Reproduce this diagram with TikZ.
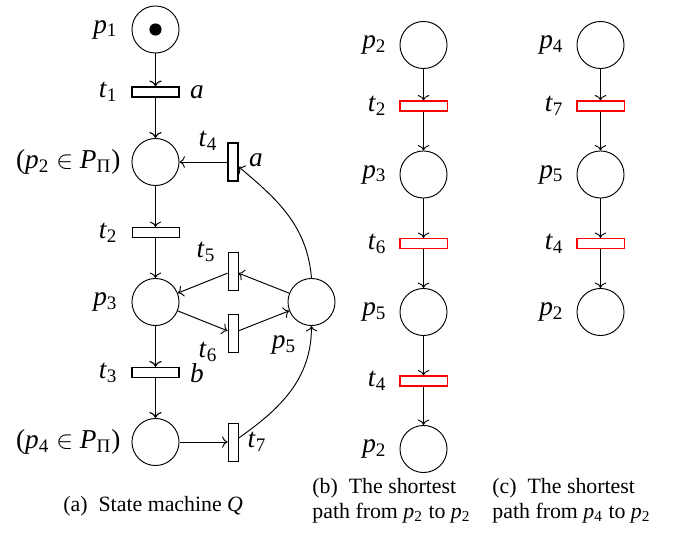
\documentclass[tikz,border=0pt]{standalone}
\usepackage{fontspec}
\setmainfont{Liberation Serif}
\usetikzlibrary{arrows.meta}
\newcommand{\vr}[2]{\textit{#1}\textsubscript{#2}}
\begin{document}
\begin{tikzpicture}[x=0.476pt,y=-0.476pt,
  place/.style={circle,draw,line width=0.45pt,inner sep=0pt,minimum size=22.4pt},
  htr/.style={rectangle,draw,line width=0.45pt,inner sep=0pt,minimum width=22.4pt,minimum height=4.76pt},
  vtr/.style={rectangle,draw,line width=0.45pt,inner sep=0pt,minimum width=4.76pt,minimum height=18.1pt},
  obs/.style={line width=0.55pt},
  redtr/.style={htr,draw=red,fill=white,line width=0.5pt},
  arc/.style={->,line width=0.45pt},
  barc/.style={->,line width=0.55pt},
  lab/.style={font=\fontsize{13}{15}\selectfont,inner sep=0pt},
  captext/.style={font=\fontsize{10.4}{12.5}\selectfont,inner sep=0pt,anchor=base west}]
\useasboundingbox (0,0) rectangle (676,534);
% ---------- (a) ----------
\node[place] (p1) at (155.5,29.5) {};
\node[circle,fill,inner sep=0pt,minimum size=5.8pt] (tok) at (p1) {};
\node[htr,obs] (t1) at (155.5,92) {};
\node[place] (p2) at (155.5,162) {};
\node[vtr,obs] (t4) at (233,162) {};
\node[htr] (t2) at (155.5,232.5) {};
\node[place] (p3) at (155.5,302) {};
\node[vtr] (t5) at (233,271) {};
\node[vtr] (t6) at (233,333) {};
\node[place] (p5) at (311.5,302) {};
\node[htr,obs] (t3) at (155.5,372.5) {};
\node[place] (p4) at (155.5,442) {};
\node[vtr] (t7) at (233,442) {};

\draw[barc] (p1) -- (t1);
\draw[barc] (t1) -- (p2);
\draw[arc] (t4) -- (p2);
\draw[arc] (p2) -- (t2);
\draw[arc] (t2) -- (p3);
\draw[arc] (p5) -- (t5);
\draw[arc] (t5) -- (p3);
\draw[arc] (p3) -- (t6);
\draw[arc] (t6) -- (p5);
\draw[barc] (p3) -- (t3);
\draw[barc] (t3) -- (p4);
\draw[arc] (p4) -- (t7);
\draw[arc] (p5.north) to[out=95,in=-40] (t4);
\draw[arc] (t7) to[out=35,in=-90] (p5.south);

\node[lab,anchor=east] (lp1) at (118,29.5) {\vr{p}{1}};
\node[lab,anchor=east] (lt1) at (118,92) {\vr{t}{1}};
\node[lab] (la1) at (197,92) {\textit{a}};
\node[lab,anchor=east] (lp2) at (121,162) {(\vr{p}{2} $\in$ \textit{P}\textsubscript{Π})};
\node[lab] (lt4) at (208,141) {\vr{t}{4}};
\node[lab] (la4) at (256,160) {\textit{a}};
\node[lab,anchor=east] (lt2) at (118,232.5) {\vr{t}{2}};
\node[lab] (lt5) at (206,252) {\vr{t}{5}};
\node[lab,anchor=east] (lp3) at (118,302) {\vr{p}{3}};
\node[lab] (lt6) at (208,352) {\vr{t}{6}};
\node[lab] (lp5) at (284,345) {\vr{p}{5}};
\node[lab,anchor=east] (lt3) at (118,372.5) {\vr{t}{3}};
\node[lab] (lb) at (197,373) {\textit{b}};
\node[lab,anchor=east] (lp4) at (121,442) {(\vr{p}{4} $\in$ \textit{P}\textsubscript{Π})};
\node[lab] (lt7) at (257,442) {\vr{t}{7}};
\node[captext] (capa) at (63,511) {(a)\enspace State machine \textit{Q}};

% ---------- (b) ----------
\node[place] (b1) at (423.5,45) {};
\node[redtr] (b2) at (423.5,106) {};
\node[place] (b3) at (423.5,174.5) {};
\node[redtr] (b4) at (423.5,243.5) {};
\node[place] (b5) at (423.5,312) {};
\node[redtr] (b6) at (423.5,381) {};
\node[place] (b7) at (423.5,449) {};
\foreach \a/\b in {b1/b2,b2/b3,b3/b4,b4/b5,b5/b6,b6/b7} \draw[arc] (\a) -- (\b);
\node[lab,anchor=east] (lb1) at (387,45) {\vr{p}{2}};
\node[lab,anchor=east] (lb2) at (387,106) {\vr{t}{2}};
\node[lab,anchor=east] (lb3) at (387,174.5) {\vr{p}{3}};
\node[lab,anchor=east] (lb4) at (387,243.5) {\vr{t}{6}};
\node[lab,anchor=east] (lb5) at (387,312) {\vr{p}{5}};
\node[lab,anchor=east] (lb6) at (387,381) {\vr{t}{4}};
\node[lab,anchor=east] (lb7) at (387,449) {\vr{p}{2}};
\node[captext] (capb1) at (312,493) {(b)\enspace The shortest};
\node[captext] (capb2) at (312,518.5) {path from \vr{p}{2} to \vr{p}{2}};

% ---------- (c) ----------
\node[place] (c1) at (600.5,45) {};
\node[redtr] (c2) at (600.5,106) {};
\node[place] (c3) at (600.5,174.5) {};
\node[redtr] (c4) at (600.5,243.5) {};
\node[place] (c5) at (600.5,312) {};
\foreach \a/\b in {c1/c2,c2/c3,c3/c4,c4/c5} \draw[arc] (\a) -- (\b);
\node[lab,anchor=east] (lc1) at (564,45) {\vr{p}{4}};
\node[lab,anchor=east] (lc2) at (564,106) {\vr{t}{7}};
\node[lab,anchor=east] (lc3) at (564,174.5) {\vr{p}{5}};
\node[lab,anchor=east] (lc4) at (564,243.5) {\vr{t}{4}};
\node[lab,anchor=east] (lc5) at (564,312) {\vr{p}{2}};
\node[captext] (capc1) at (492,493) {(c)\enspace The shortest};
\node[captext] (capc2) at (492,518.5) {path from \vr{p}{4} to \vr{p}{2}};
\end{tikzpicture}
\end{document}
